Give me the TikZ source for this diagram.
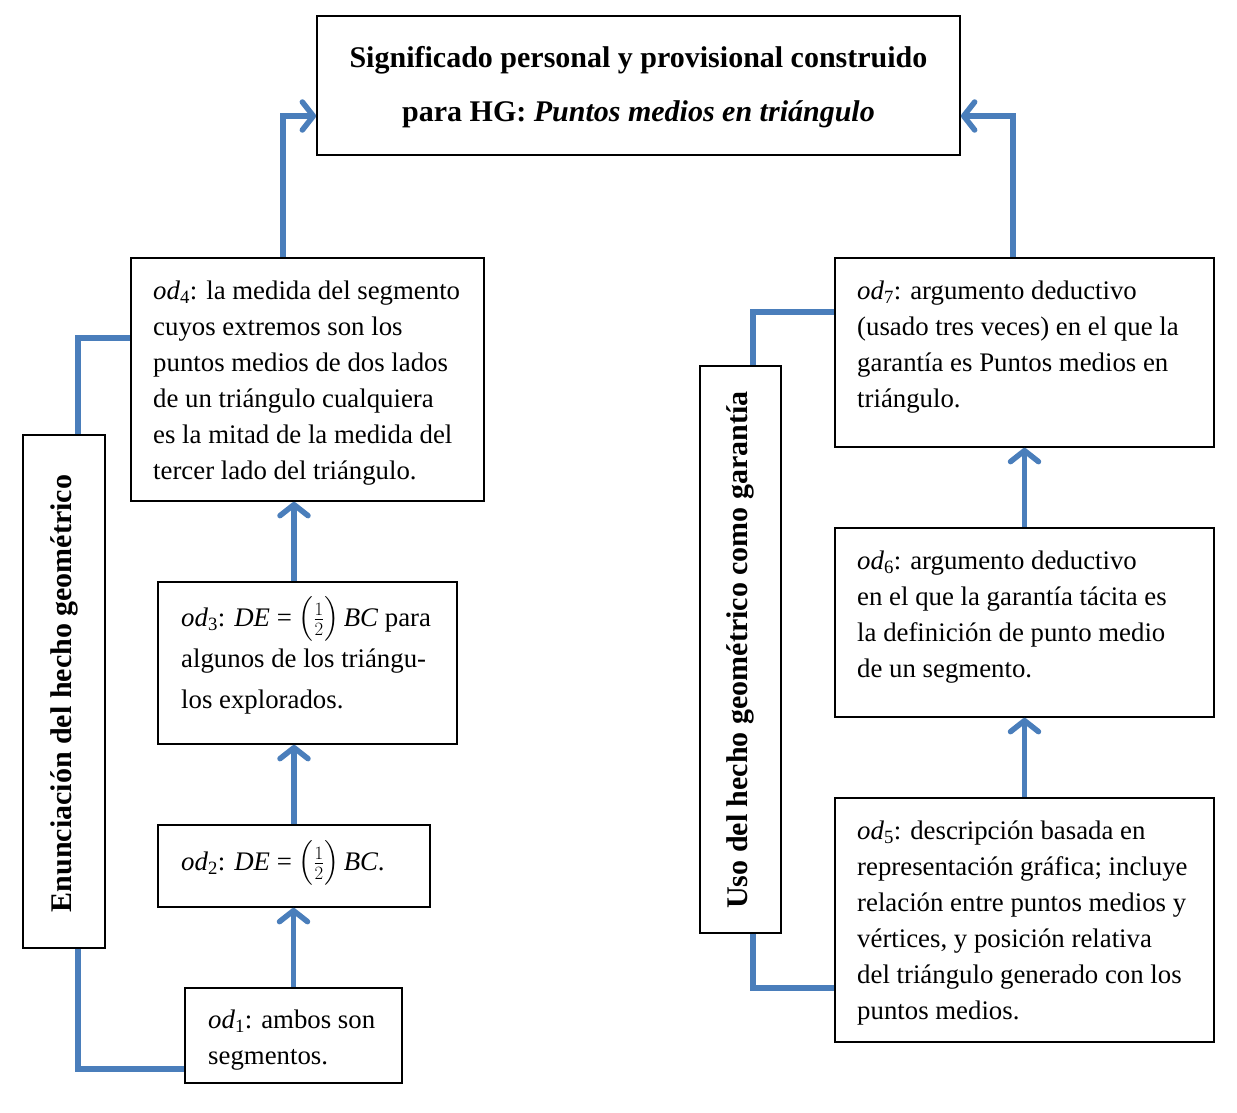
\documentclass[tikz,border=0pt]{standalone}
\usepackage{fix-cm}
\usepackage{amsmath}
\usepackage{fontspec}
\setmainfont{Liberation Serif}
\usetikzlibrary{arrows.meta,calc}
\definecolor{conn}{RGB}{74,126,187}
\newcommand\od[1]{\textit{od}\textsubscript{#1}}
\newcommand\half{$\Bigl(\frac{1}{2}\Bigr)$}
\begin{document}
\begin{tikzpicture}[x=1pt,y=-1pt,
  box/.style={draw=black, line width=1.8pt, inner sep=0pt},
  txt/.style={anchor=base west, inner sep=0pt, align=left, font=\fontsize{26.8}{36}\selectfont},
  arr/.style={draw=conn, line width=5.5pt, -{Straight Barb[length=11pt,width=28pt,round]}},
  link/.style={draw=conn, line width=5.5pt},
  vlab/.style={rotate=90, inner sep=0pt, font=\fontsize{30}{34}\selectfont\bfseries},
]
\useasboundingbox[fill=white] (0,0) rectangle (1237,1113);

% boxes
\node[box, minimum width=643, minimum height=139] (title) at (638.5,85.5) {};
\node[box, minimum width=353, minimum height=243] (od4) at (307.5,379.5) {};
\node[box, minimum width=299, minimum height=162] (od3) at (307.5,663) {};
\node[box, minimum width=272, minimum height=82] (od2) at (294,866) {};
\node[box, minimum width=217, minimum height=95] (od1) at (293.5,1035.5) {};
\node[box, minimum width=82, minimum height=513] (lab1) at (64,691.5) {};
\node[box, minimum width=379, minimum height=189] (od7) at (1024.5,352.5) {};
\node[box, minimum width=379, minimum height=189] (od6) at (1024.5,622.5) {};
\node[box, minimum width=379, minimum height=244] (od5) at (1024.5,920) {};
\node[box, minimum width=81, minimum height=567] (lab2) at (740.5,649.5) {};

% title text (base = last line)
\node[inner sep=0pt, anchor=base, align=center, font=\fontsize{30}{54}\selectfont\bfseries] (ttl) at (638.5,122)
  {Significado personal y provisional construido\\para HG: \textit{Puntos medios en triángulo}};

% vertical labels
\node[vlab] (l1) at (64,693.5) {Enunciación del hecho geométrico};
\node[vlab] (l2) at (740.5,650) {Uso del hecho geométrico como garantía};

% texts (base = last line)
\node[txt] (x4) at (153,479) {\od{4}: la medida del segmento\\cuyos extremos son los\\puntos medios de dos lados\\de un triángulo cualquiera\\es la mitad de la medida del\\tercer lado del triángulo.};
\node[txt, font=\fontsize{26.8}{41}\selectfont] (x3) at (181,708) {\od{3}: \textit{DE}~=~\half\,\textit{BC} para\\algunos de los triángu-\\los explorados.};
\node[txt] (x2) at (181,870) {\od{2}: \textit{DE}~=~\half\,\textit{BC}.};
\node[txt] (x1) at (208,1064) {\od{1}: ambos son\\segmentos.};
\node[txt] (x7) at (857,407) {\od{7}: argumento deductivo\\(usado tres veces) en el que la\\garantía es Puntos medios en\\triángulo.};
\node[txt] (x6) at (857,677) {\od{6}: argumento deductivo\\en el que la garantía tácita es\\la definición de punto medio\\de un segmento.};
\node[txt] (x5) at (857,1019) {\od{5}: descripción basada en\\representación gráfica; incluye\\relación entre puntos medios y\\vértices, y posición relativa\\del triángulo generado con los\\puntos medios.};

% arrows
\draw[arr] (od1.north) -- (od1.north |- od2.south);
\draw[arr] (od2.north) -- (od2.north |- od3.south);
\draw[arr] (od3.north -| od2.north) -- (od2.north |- od4.south);
\draw[arr] ($(od4.north)+(-24.5,0)$) |- ($(title.west)+(0,30.5)$);
\draw[arr] (od5.north) -- (od6.south);
\draw[arr] (od6.north) -- (od7.south);
\draw[arr] ($(od7.north)+(-11.5,0)$) |- ($(title.east)+(0,30.5)$);

% links
\draw[link] ($(od4.west)+(0,-41.5)$) -| ($(lab1.north)+(14,0)$);
\draw[link] ($(lab1.south)+(14,0)$) |- ($(od1.west)+(0,33.5)$);
\draw[link] ($(lab2.north)+(12.5,0)$) |- ($(od7.west)+(0,-40.5)$);
\draw[link] ($(lab2.south)+(12.5,0)$) |- ($(od5.west)+(0,68)$);
\end{tikzpicture}
\end{document}
